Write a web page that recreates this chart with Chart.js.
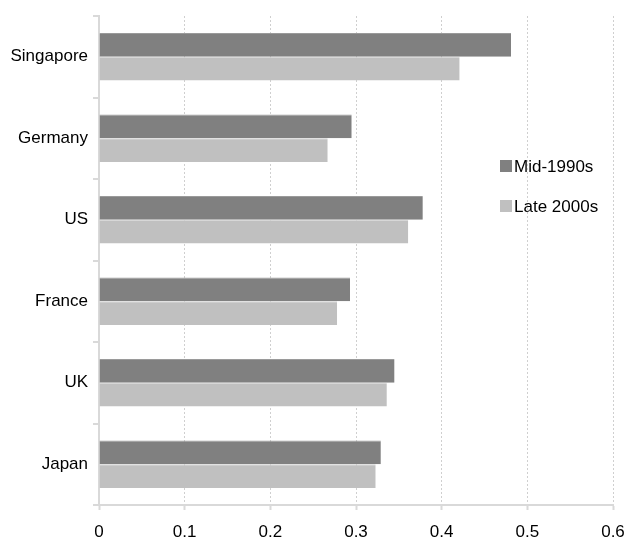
<!DOCTYPE html>
<html>
<head>
<meta charset="utf-8">
<script src="https://cdn.jsdelivr.net/npm/chart.js@4/dist/chart.umd.min.js"></script>
<style>
  html, body { margin: 0; padding: 0; background: #fff; }
  #wrap { width: 627px; height: 540px; }
</style>
</head>
<body>
<div id="wrap"><canvas id="chart"></canvas></div>
<script>
const countries = ['Singapore', 'Germany', 'US', 'France', 'UK', 'Japan'];
const mid1990s = [0.481, 0.295, 0.378, 0.293, 0.345, 0.329];
const late2000s = [0.421, 0.267, 0.361, 0.278, 0.336, 0.323];
const xTicks = [0, 0.1, 0.2, 0.3, 0.4, 0.5, 0.6];

const fontFamily = "'Liberation Sans Narrow', 'Liberation Sans', Arial, sans-serif";

// legend drawn inside the plot, to the right of the bars
const sideLegend = {
  id: 'sideLegend',
  afterDraw(chart) {
    const ctx = chart.ctx;
    const area = chart.chartArea;
    const x = area.right - 113;
    let y = area.top + 150;
    ctx.save();
    ctx.font = '17px ' + fontFamily;
    ctx.textBaseline = 'middle';
    chart.data.datasets.forEach((ds) => {
      ctx.fillStyle = ds.backgroundColor;
      ctx.fillRect(x, y - 6, 12, 12);
      ctx.fillStyle = '#000';
      ctx.fillText(ds.label, x + 14, y + 1);
      y += 40;
    });
    ctx.restore();
  }
};

new Chart(document.getElementById('chart').getContext('2d'), {
  type: 'bar',
  data: {
    labels: countries,
    datasets: [{
      label: 'Mid-1990s',
      data: mid1990s,
      backgroundColor: '#808080',
      borderColor: '#9a9a9a',
      borderWidth: { top: 1, right: 0, bottom: 0, left: 0 },
      borderSkipped: false
    }, {
      label: 'Late 2000s',
      data: late2000s,
      backgroundColor: '#c0c0c0',
      borderColor: '#d6d6d6',
      borderWidth: { top: 1, right: 0, bottom: 0, left: 0 },
      borderSkipped: false
    }]
  },
  options: {
    indexAxis: 'y',
    responsive: true,
    maintainAspectRatio: false,
    animation: false,
    layout: { padding: { top: 16, right: 0, left: 0, bottom: 0 } },
    datasets: {
      bar: { barPercentage: 1, categoryPercentage: 0.58 }
    },
    plugins: {
      legend: { display: false },
      tooltip: { enabled: false }
    },
    scales: {
      x: {
        min: 0,
        max: 0.6,
        afterBuildTicks(scale) {
          scale.ticks = xTicks.map(v => ({ value: v }));
        },
        afterFit(scale) {
          scale.height = 35;
          scale.paddingRight = 14;
        },
        // border.dash applies to the gridlines, the axis line stays solid
        border: { display: true, color: '#d9d9d9', width: 2, dash: [2, 2] },
        grid: {
          color: '#cfcfcf',
          lineWidth: 1,
          tickLength: 5,
          tickColor: '#d9d9d9',
          tickWidth: 2,
          tickBorderDash: []
        },
        ticks: {
          color: '#000',
          padding: 12,
          font: { family: fontFamily, size: 17 },
          callback: (v) => String(v)
        }
      },
      y: {
        afterFit(scale) { scale.width = 99; },
        border: { display: true, color: '#d9d9d9', width: 2 },
        grid: {
          offset: true,
          drawOnChartArea: false,
          tickLength: 6,
          color: '#d9d9d9',
          lineWidth: 2
        },
        ticks: {
          color: '#000',
          padding: 5,
          font: { family: fontFamily, size: 17 }
        }
      }
    }
  },
  plugins: [sideLegend]
});
</script>
</body>
</html>
